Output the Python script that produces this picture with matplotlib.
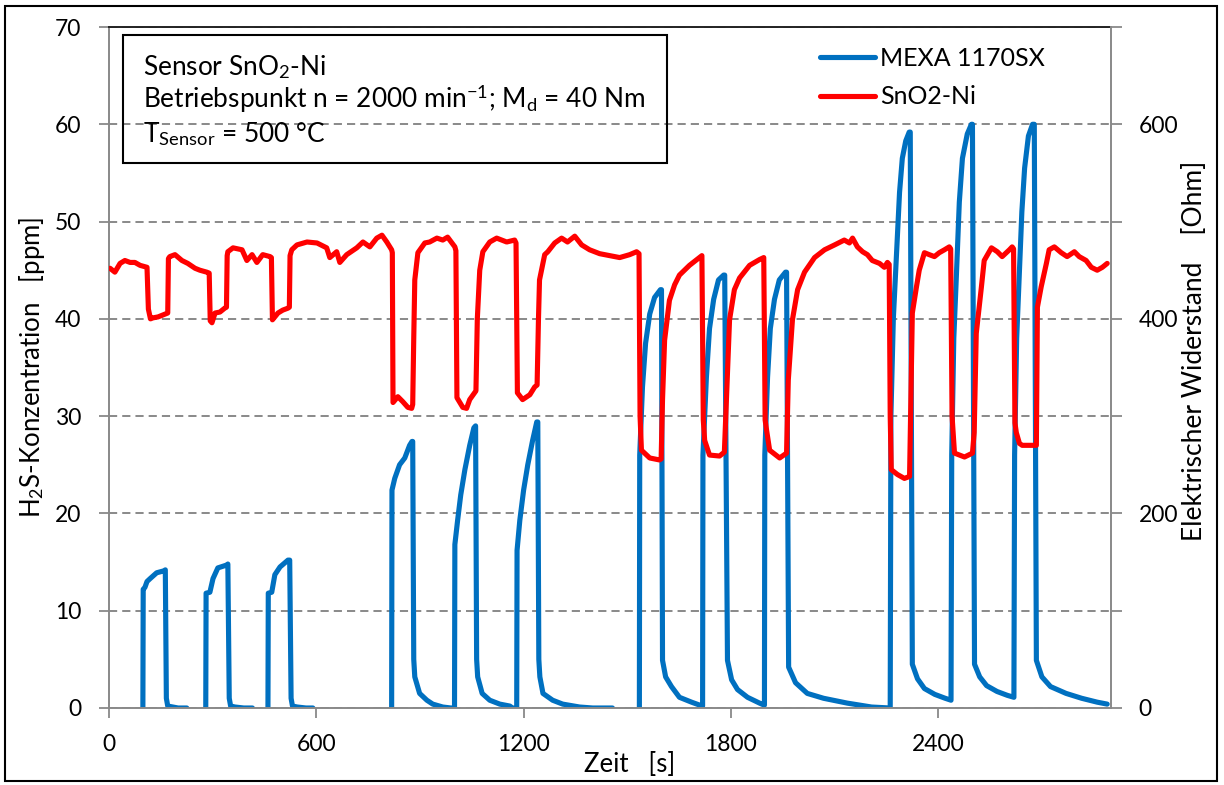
import matplotlib
matplotlib.use('Agg')
import matplotlib.pyplot as plt
from matplotlib.patches import Rectangle

plt.rcParams['font.family'] = ['Lato', 'DejaVu Sans']
plt.rcParams['mathtext.fontset'] = 'custom'
plt.rcParams['mathtext.rm'] = 'Lato'
plt.rcParams['mathtext.it'] = 'Lato:italic'
plt.rcParams['mathtext.bf'] = 'Lato:bold'

# ---------------- data ----------------
mexa_time_s = [
    0, 97,
    98, 99, 104, 110, 119, 138, 159, 163,
    166, 170, 185, 200, 225, 230, 279,
    280, 281, 292, 301, 315, 341, 344,
    348, 352, 365, 390, 415, 420, 459,
    460, 461, 471, 480, 495, 518, 523,
    527, 531, 545, 570, 590, 595, 817,
    818, 819, 827, 841, 856, 870, 877, 879,
    882, 885, 899, 920, 937, 966, 990, 999,
    1000, 1001, 1009, 1018, 1030, 1044, 1056, 1061,
    1064, 1067, 1080, 1102, 1131, 1160, 1168, 1179,
    1180, 1181, 1189, 1200, 1212, 1226, 1238, 1241,
    1244, 1247, 1256, 1284, 1313, 1362, 1400, 1457, 1462, 1534,
    1535, 1536, 1544, 1553, 1565, 1579, 1596, 1599,
    1602, 1611, 1628, 1651, 1686, 1717,
    1718, 1719, 1729, 1738, 1750, 1764, 1779, 1782,
    1790, 1802, 1819, 1848, 1883, 1896,
    1897, 1898, 1906, 1914, 1926, 1940, 1958, 1961,
    1967, 1987, 2021, 2068, 2137, 2207, 2259,
    2261, 2263, 2270, 2279, 2288, 2296, 2306, 2316, 2319,
    2325, 2340, 2360, 2390, 2420, 2437,
    2439, 2445, 2452, 2461, 2470, 2484, 2496, 2499,
    2505, 2520, 2540, 2570, 2600, 2619,
    2621, 2627, 2635, 2642, 2650, 2661, 2673, 2678,
    2684, 2700, 2725, 2770, 2815, 2860, 2889,
]
mexa_h2s_ppm = [
    -0.5, -0.5,
    -0.5, 12.2, 12.4, 13.0, 13.3, 13.9, 14.1, 14.2,
    1.0, 0.2, 0.1, 0.0, 0.0, -0.5, -0.5,
    -0.5, 11.8, 11.9, 13.3, 14.4, 14.7, 14.8,
    1.0, 0.2, 0.1, 0.0, 0.0, -0.5, -0.5,
    -0.5, 11.8, 11.9, 13.7, 14.5, 15.2, 15.2,
    1.0, 0.2, 0.1, 0.0, 0.0, -0.5, -0.5,
    -0.5, 22.4, 23.6, 25.0, 25.7, 27.0, 27.4, 27.4,
    5.0, 3.2, 1.5, 0.8, 0.4, 0.1, 0.0, 0.0,
    0.0, 16.8, 19.3, 21.9, 24.5, 27.0, 28.8, 29.0,
    5.0, 3.2, 1.5, 0.8, 0.4, 0.2, 0.0, 0.0,
    0.0, 16.2, 19.3, 22.4, 25.0, 27.5, 29.4, 29.4,
    5.0, 3.2, 1.5, 0.8, 0.4, 0.1, 0.0, 0.0, -0.5, -0.5,
    -0.5, 26.0, 33.0, 37.5, 40.5, 42.2, 43.0, 43.0,
    4.9, 3.2, 2.2, 1.1, 0.6, 0.2,
    0.2, 26.0, 34.0, 39.0, 42.0, 44.0, 44.5, 44.5,
    4.9, 2.9, 1.9, 1.1, 0.5, 0.3,
    0.3, 26.0, 34.0, 39.0, 42.0, 44.0, 44.8, 44.8,
    4.2, 2.6, 1.5, 1.0, 0.5, 0.1, 0.0,
    0.0, 30.0, 40.0, 46.5, 53.0, 56.5, 58.3, 59.2, 59.2,
    4.5, 3.0, 2.0, 1.4, 1.0, 0.8,
    26.0, 38.0, 44.0, 52.0, 56.5, 59.0, 60.0, 60.0,
    4.5, 3.2, 2.3, 1.7, 1.3, 1.1,
    26.0, 38.0, 45.0, 51.0, 55.5, 58.8, 60.0, 60.0,
    4.9, 3.2, 2.2, 1.5, 1.0, 0.6, 0.4,
]

sno2_time_s = [
    3, 17, 32, 46, 61, 75, 90, 110,
    114, 120, 127, 142, 156, 170,
    172, 176, 191, 211, 228, 249, 263, 283, 290,
    293, 298, 307, 321, 335, 340,
    342, 344, 359, 385, 399, 414, 428, 445, 466, 470,
    473, 489, 503, 518, 522,
    524, 529, 544, 573, 602, 630, 639, 659, 668, 688, 717, 735, 755, 775, 790, 804, 818, 820,
    822, 836, 850, 865, 876, 879,
    882, 885, 894, 914, 928, 949, 966, 980, 1001, 1004,
    1007, 1024, 1035, 1044, 1058, 1062,
    1066, 1073, 1082, 1102, 1122, 1151, 1174, 1178,
    1182, 1197, 1218, 1232, 1239,
    1243, 1246, 1261, 1270, 1290, 1310, 1327, 1348, 1368, 1391, 1420, 1449, 1478, 1507, 1527, 1534,
    1537, 1541, 1565, 1593, 1598,
    1602, 1608, 1622, 1637, 1651, 1680, 1709, 1716,
    1720, 1724, 1738, 1767, 1781,
    1787, 1796, 1810, 1825, 1854, 1883, 1895,
    1899, 1903, 1912, 1941, 1961,
    1966, 1978, 1993, 2013, 2042, 2071, 2100, 2128, 2143, 2152, 2166, 2181, 2195, 2209, 2230, 2244, 2253, 2258,
    2261, 2264, 2282, 2302, 2317,
    2320, 2325, 2337, 2345, 2360, 2374, 2389, 2403, 2418, 2432, 2436,
    2440, 2447, 2476, 2499,
    2504, 2510, 2525, 2533, 2554, 2571, 2585, 2606, 2614, 2618,
    2622, 2626, 2635, 2643, 2684,
    2687, 2698, 2713, 2721, 2736, 2756, 2773, 2794, 2808, 2828, 2843, 2860, 2875, 2889,
]
sno2_resistance_ohm = [
    452, 448, 457, 460, 458, 458, 455, 453,
    410, 400, 401, 402, 404, 406,
    462, 464, 466, 460, 457, 452, 450, 448, 447,
    398, 396, 406, 407, 411, 412,
    465, 469, 473, 471, 460, 466, 458, 466, 464, 463,
    399, 406, 409, 411, 412,
    465, 471, 476, 479, 478, 473, 463, 469, 458, 466, 473, 479, 474, 483, 486, 479, 471, 468,
    314, 320, 315, 309, 308, 312,
    380, 440, 468, 478, 479, 483, 481, 484, 474, 470,
    319, 309, 308, 317, 324, 326,
    400, 450, 469, 479, 483, 479, 481, 478,
    324, 317, 322, 330, 332,
    400, 440, 466, 469, 478, 483, 479, 485, 476, 471, 467, 465, 463, 466, 469, 467,
    300, 265, 257, 255, 256,
    317, 378, 419, 435, 445, 455, 463, 465,
    296, 275, 260, 259, 263,
    317, 399, 430, 442, 455, 461, 463,
    296, 286, 265, 257, 262,
    337, 399, 430, 448, 463, 471, 476, 481, 478, 483, 474, 469, 466, 460, 457, 453, 458, 456,
    300, 245, 240, 236, 238,
    300, 406, 433, 450, 468, 466, 464, 468, 471, 474, 472,
    300, 262, 258, 262,
    283, 385, 433, 460, 473, 469, 464, 471, 474, 472,
    293, 283, 272, 270, 270,
    412, 433, 457, 471, 474, 468, 464, 469, 464, 460, 453, 450, 453, 457,
]

time_ticks = [0, 600, 1200, 1800, 2400]
ppm_ticks = [0, 10, 20, 30, 40, 50, 60, 70]
ohm_ticks = [0, 200, 400, 600]
ohm_minor_ticks = [100, 300, 500, 700]

# ---------------- figure ----------------
W, H = 1224, 785
fig = plt.figure(figsize=(W / 100, H / 100), dpi=100)
fig.patch.set_facecolor('white')

def fx(px):
    return px / W

def fy(py):
    return 1 - py / H

L, R, T, B = 109, 1111, 27, 708
ax = fig.add_axes([fx(L), fy(B), (R - L) / W, (B - T) / H])
ax2 = ax.twinx()

gray = '#898989'
blue = '#0070C0'
red = '#FF0000'
lw_data = 3.7

ax.plot(mexa_time_s, mexa_h2s_ppm, color=blue, lw=lw_data, solid_joinstyle='round',
        solid_capstyle='round', label='MEXA 1170SX')
ax2.plot(sno2_time_s, sno2_resistance_ohm, color=red, lw=lw_data, solid_joinstyle='round',
         solid_capstyle='round', label='SnO2-Ni')

ax.set_xlim(0, 2900)
ax.set_ylim(0, 70)
ax2.set_ylim(0, 700)
ax.set_xticks(time_ticks)
ax.set_yticks(ppm_ticks)
ax2.set_yticks(ohm_ticks)
ax2.set_yticks(ohm_minor_ticks, minor=True)

ax.set_axisbelow(True)
ax.yaxis.grid(True, linestyle=(0, (4.2, 2.6)), color=gray, lw=1.4)
ax.xaxis.grid(False)

fs = 16.5
title_fs = 18.5
ax.tick_params(axis='both', which='both', direction='out', length=7, width=1.3,
               color=gray, labelsize=fs, labelcolor='black')
ax.tick_params(axis='y', pad=13)
ax.tick_params(axis='x', pad=12)
ax2.tick_params(axis='y', which='both', direction='out', length=8, width=1.3,
                color=gray, labelsize=fs, labelcolor='black', pad=12)

for a in (ax, ax2):
    for s in a.spines.values():
        s.set_visible(False)
ax.spines['left'].set_visible(True)
ax.spines['bottom'].set_visible(True)
ax.spines['top'].set_visible(True)
ax2.spines['right'].set_visible(True)
for s in (ax.spines['left'], ax.spines['bottom'], ax2.spines['right']):
    s.set_color(gray)
    s.set_linewidth(1.4)
ax.spines['top'].set_color('#222222')
ax.spines['top'].set_linewidth(1.4)

ax.set_xlabel('Zeit   [s]', fontsize=title_fs)
ax.xaxis.set_label_coords((630 - L) / (R - L), -(765 - B) / (B - T))
ax.xaxis.label.set_va('center')
ax.set_ylabel('H$_\\mathrm{2}$S-Konzentration   [ppm]', fontsize=title_fs)
ax.yaxis.set_label_coords((32 - L) / (R - L), 0.5)
ax.yaxis.label.set_va('center')
ax2.set_ylabel('Elektrischer Widerstand    [Ohm]', fontsize=19)
ax2.yaxis.set_label_coords((1195 - L) / (R - L), (B - 351) / (B - T))
ax2.yaxis.label.set_va('center')

# legend
h1, l1 = ax.get_legend_handles_labels()
h2, l2 = ax2.get_legend_handles_labels()
leg = ax2.legend(h1 + h2, l1 + l2, loc='upper left', bbox_to_anchor=(fx(820), fy(47)),
                 bbox_transform=fig.transFigure, frameon=False, fontsize=18,
                 handlelength=2.2, handletextpad=0.2, labelspacing=0.62,
                 borderpad=0, borderaxespad=0)

# annotation box
fig.patches.append(Rectangle((fx(123), fy(163)), (667 - 123) / W, (163 - 35) / H,
                             transform=fig.transFigure, fill=False, ec='black', lw=1.5))
box_fs = 18.9
fig.text(fx(143), fy(75), 'Sensor SnO$_\\mathrm{2}$-Ni', fontsize=box_fs, va='baseline')
fig.text(fx(143), fy(108), 'Betriebspunkt n = 2000 min$^\\mathrm{-1}$; M$_\\mathrm{d}$ = 40 Nm',
         fontsize=box_fs, va='baseline')
fig.text(fx(143), fy(142), 'T$_\\mathrm{Sensor}$ = 500 °C', fontsize=box_fs, va='baseline')

# outer frame
fig.patches.append(Rectangle((fx(5), fy(781)), (1217 - 5) / W, (781 - 6) / H,
                             transform=fig.transFigure, fill=False, ec='black', lw=1.5))

fig.savefig('out.png', dpi=100)
